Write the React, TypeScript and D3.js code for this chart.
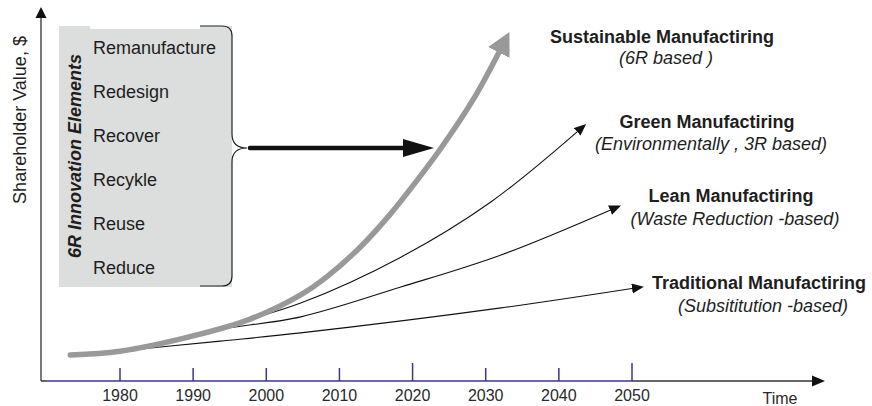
import React from "react";
import * as d3 from "d3";

// ---------- data ----------
const yearTicks = [1980, 1990, 2000, 2010, 2020, 2030, 2040, 2050];
const tallTicks = [2020, 2050];

const sustainable: [number, number][] = [
  [1973.2, 7.0], [1980, 8.0], [1990, 12.1], [1997.8, 16.6], [2004.7, 23.1],
  [2008.3, 28.0], [2012.8, 35.8], [2016.9, 44.6], [2020.3, 53.0],
  [2023.8, 62.2], [2028.3, 75.5], [2031.8, 88.1],
];
const green: [number, number][] = [
  [1973.2, 7.0], [1980, 8.0], [1985.5, 9.9], [1991, 12.9], [2004.7, 20.9],
  [2018.4, 33.2], [2030.7, 48.0], [2042.5, 66.8],
];
const lean: [number, number][] = [
  [1973.2, 7.0], [1980, 8.0], [1985.5, 9.8], [1992.7, 13.5], [2004.7, 17.2],
  [2018.4, 25.2], [2032.1, 33.8], [2047.0, 45.8],
];
const traditional: [number, number][] = [
  [1973.2, 7.0], [1980, 8.0], [1985.5, 9.1], [1993.7, 10.7], [2004.7, 12.9],
  [2032.1, 19.6], [2050.0, 24.8],
];

const innovationElements = ["Remanufacture", "Redesign", "Recover", "Recykle", "Reuse", "Reduce"];

const seriesLabels = [
  { title: "Sustainable Manufactiring", sub: "(6R based )" },
  { title: "Green Manufactiring", sub: "(Environmentally , 3R based)" },
  { title: "Lean Manufactiring", sub: "(Waste Reduction -based)" },
  { title: "Traditional Manufactiring", sub: "(Subsititution -based)" },
];

const FONT = "'Liberation Sans', Arial, Helvetica, sans-serif";
const TEXT = "#1e1e1e";
const AXIS_BLUE = "#3d348f";

export default function App() {
  const W = 872, H = 406;
  const x = d3.scaleLinear().domain([1980, 2050]).range([120, 632]);
  const y = d3.scaleLinear().domain([0, 100]).range([381, 8]);

  const line = d3
    .line<[number, number]>()
    .x((d) => x(d[0]))
    .y((d) => y(d[1]))
    .curve(d3.curveCatmullRom.alpha(0.5));

  // label positions (centre x, title baseline, subtitle baseline)
  const labelPos = [
    [662, 43, 64],
    [707, 128, 150],
    [731, 202, 225],
    [759, 289, 312],
  ];

  const axisY = y(0);
  const axisLeft = 41;

  return (
    <svg
      width={W}
      height={H}
      style={{ position: "absolute", left: 0, top: 0, background: "#fff" }}
      fontFamily={FONT}
    >
      <defs>
        <marker id="headGray" markerUnits="userSpaceOnUse" markerWidth={24} markerHeight={26}
          refX={0} refY={12} orient="auto" viewBox="0 0 24 26">
          <path d="M0,0 L23,12 L0,24 Z" fill="#999" />
        </marker>
        <marker id="headBlack" markerUnits="userSpaceOnUse" markerWidth={14} markerHeight={12}
          refX={0} refY={5} orient="auto" viewBox="0 0 14 12">
          <path d="M0,0 L12,5 L0,10 Z" fill="#111" />
        </marker>
      </defs>

      {/* y axis */}
      <line x1={axisLeft} y1={axisY} x2={axisLeft} y2={16} stroke="#333" strokeWidth={1.3} />
      <path d={`M${axisLeft},7 L${axisLeft + 5.5},18 L${axisLeft - 5.5},18 Z`} fill="#111" />
      <text
        transform={`translate(26,120) rotate(-90)`}
        textAnchor="middle"
        fontSize={18}
        fill={TEXT}
      >
        Shareholder Value, $
      </text>

      {/* x axis */}
      <line x1={axisLeft} y1={axisY} x2={47} y2={axisY} stroke="#333" strokeWidth={1.5} />
      <line x1={47} y1={axisY} x2={x(2050)} y2={axisY} stroke={AXIS_BLUE} strokeWidth={1.6} />
      <line x1={x(2050)} y1={axisY} x2={815} y2={axisY} stroke="#333" strokeWidth={1.5} />
      <path d={`M825,${axisY} L812,${axisY - 5.5} L812,${axisY + 5.5} Z`} fill="#111" />
      {yearTicks.map((t) => (
        <g key={t}>
          <line
            x1={x(t)} x2={x(t)}
            y1={axisY} y2={axisY - (tallTicks.includes(t) ? 18 : 13)}
            stroke={AXIS_BLUE} strokeWidth={1.5}
          />
          <text x={x(t)} y={401} textAnchor="middle" fontSize={16} fill="#2a2a2a">{t}</text>
        </g>
      ))}
      <text x={780} y={404} textAnchor="middle" fontSize={16} fill="#2a2a2a">Time</text>

      {/* 6R box */}
      <rect x={59} y={26} width={173} height={261} fill="#dcdddd" />
      <rect x={90} y={25} width={110} height={4} fill="#fff" />
      <path
        d="M200,26 H222 Q232,26 232,36 V134 Q232,148 247,148 Q232,148 232,162 V276 Q232,286 222,286 H200"
        fill="none" stroke="#222" strokeWidth={1.2}
      />
      {innovationElements.map((e, i) => (
        <text key={e} x={93} y={54 + i * 44} fontSize={18} fill={TEXT}>{e}</text>
      ))}
      <text
        transform={`translate(81,156) rotate(-90)`}
        textAnchor="middle"
        fontSize={18}
        fontWeight="bold"
        fontStyle="italic"
        fill={TEXT}
      >
        6R Innovation Elements
      </text>

      {/* black arrow from brace */}
      <line x1={250} y1={148} x2={405} y2={148} stroke="#111" strokeWidth={4.5} strokeLinecap="round" />
      <path d="M403,139 L434,148 L403,157 Z" fill="#111" />

      {/* curves */}
      <path d={line(traditional) || ""} fill="none" stroke="#111" strokeWidth={1.1} markerEnd="url(#headBlack)" />
      <path d={line(lean) || ""} fill="none" stroke="#111" strokeWidth={1.1} markerEnd="url(#headBlack)" />
      <path d={line(green) || ""} fill="none" stroke="#111" strokeWidth={1.1} markerEnd="url(#headBlack)" />
      <path d={line(sustainable) || ""} fill="none" stroke="#999" strokeWidth={5.5} strokeLinecap="round" markerEnd="url(#headGray)" />

      {/* labels */}
      {seriesLabels.map((l, i) => (
        <g key={l.title}>
          <text x={labelPos[i][0]} y={labelPos[i][1]} textAnchor="middle" fontSize={18} fontWeight="bold" fill={TEXT}>
            {l.title}
          </text>
          <text x={labelPos[i][0] + 4} y={labelPos[i][2]} textAnchor="middle" fontSize={18} fontStyle="italic" fill={TEXT}>
            {l.sub}
          </text>
        </g>
      ))}
    </svg>
  );
}
